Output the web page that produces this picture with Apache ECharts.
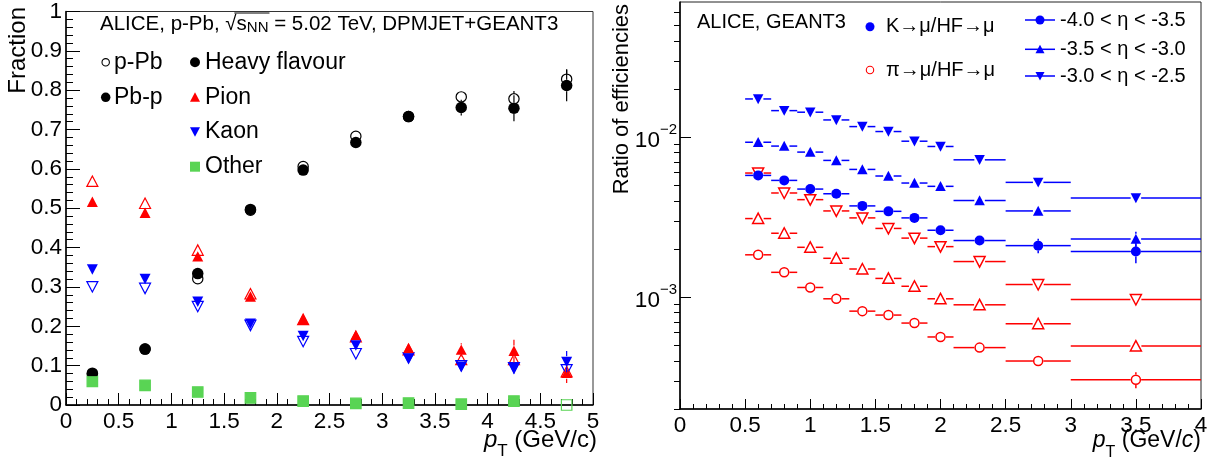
<!DOCTYPE html>
<html>
<head>
<meta charset="utf-8">
<script src="https://cdn.jsdelivr.net/npm/echarts@6/dist/echarts.min.js"></script>
<style>
html, body { margin: 0; padding: 0; background: #fff; }
#chart { width: 1221px; height: 468px; }
</style>
</head>
<body>
<div id="chart"></div>
<script>
// ---------------- Left panel: muon source fractions vs pT ----------------
const ptCenters = [0.25, 0.75, 1.25, 1.75, 2.25, 2.75, 3.25, 3.75, 4.25, 4.75];

const hfPPb     = [0.078, 0.142, 0.321, 0.495, 0.606, 0.683, 0.733, 0.783, 0.778, 0.828];
const hfPPbErr  = [0, 0, 0, 0, 0.003, 0.006, 0.006, 0.012, 0.020, 0.025];
const hfPbP     = [0.081, 0.142, 0.334, 0.497, 0.597, 0.667, 0.733, 0.756, 0.754, 0.812];
const hfPbPErr  = [0, 0, 0, 0, 0.004, 0.008, 0.008, 0.020, 0.033, 0.040];

const pionPPb    = [0.568, 0.512, 0.393, 0.282, 0.217, 0.173, 0.140, 0.115, 0.115, 0.084];
const pionPPbErr = [0, 0, 0, 0, 0, 0.005, 0.006, 0.010, 0.015, 0.015];
const pionPbP    = [0.516, 0.488, 0.377, 0.275, 0.217, 0.177, 0.144, 0.140, 0.137, 0.081];
const pionPbPErr = [0, 0, 0, 0, 0.004, 0.008, 0.010, 0.017, 0.029, 0.025];

const kaonPPb    = [0.301, 0.297, 0.251, 0.203, 0.162, 0.131, 0.120, 0.100, 0.095, 0.090];
const kaonPPbErr = [0, 0, 0, 0, 0, 0.004, 0.005, 0.008, 0.010, 0.015];
const kaonPbP    = [0.345, 0.321, 0.263, 0.207, 0.176, 0.152, 0.119, 0.098, 0.094, 0.110];
const kaonPbPErr = [0, 0, 0, 0, 0.004, 0.006, 0.008, 0.012, 0.015, 0.027];

const otherPPb   = [0.060, 0.050, 0.033, 0.018, 0.010, 0.004, 0.005, 0.002, 0.010, 0.000];
const otherPbP   = [0.060, 0.050, 0.033, 0.018, 0.010, 0.004, 0.005, 0.002, 0.010, null];
const otherErr   = [0, 0, 0, 0, 0, 0, 0, 0, 0, 0];

// ---------------- Right panel: efficiency ratios vs pT ----------------
const binLow    = [0.5, 0.7, 0.9, 1.1, 1.3, 1.5, 1.7, 1.9, 2.1, 2.5, 3.0];
const binHigh   = [0.7, 0.9, 1.1, 1.3, 1.5, 1.7, 1.9, 2.1, 2.5, 3.0, 4.0];
const binCenter = [0.6, 0.8, 1.0, 1.2, 1.4, 1.6, 1.8, 2.0, 2.3, 2.75, 3.5];

// K -> mu / HF -> mu
const kEta1    = [0.00577, 0.00537, 0.00474, 0.00443, 0.00372, 0.00344, 0.00313, 0.00262, 0.00226, 0.00210, 0.00193];
const kEta1Err = [0.00010, 0.00010, 0.00010, 0.00010, 0.00009, 0.00009, 0.00009, 0.00009, 0.00010, 0.00022, 0.00030];
const kEta2    = [0.00930, 0.00880, 0.00807, 0.00716, 0.00629, 0.00572, 0.00517, 0.00493, 0.00402, 0.00346, 0.00231];
const kEta2Err = [0.00015, 0.00015, 0.00015, 0.00014, 0.00013, 0.00013, 0.00013, 0.00013, 0.00012, 0.00015, 0.00025];
const kEta3    = [0.01734, 0.01466, 0.01433, 0.01282, 0.01165, 0.01085, 0.00944, 0.00875, 0.00722, 0.00522, 0.00417];
const kEta3Err = [0.00030, 0.00030, 0.00030, 0.00028, 0.00026, 0.00026, 0.00024, 0.00024, 0.00020, 0.00018, 0.00020];

// pi -> mu / HF -> mu
const piEta1    = [0.00184, 0.00143, 0.00115, 0.000977, 0.000818, 0.000773, 0.000689, 0.000564, 0.000484, 0.000399, 0.000305];
const piEta1Err = [0.00003, 0.00003, 0.00003, 0.00002, 0.00002, 0.00002, 0.00002, 0.00002, 0.00002, 0.00002, 0.000035];
const piEta2    = [0.00310, 0.00251, 0.00205, 0.00175, 0.00150, 0.00131, 0.00117, 0.000977, 0.000896, 0.000682, 0.000495];
const piEta2Err = [0.00005, 0.00005, 0.00004, 0.00004, 0.00004, 0.00003, 0.00003, 0.00003, 0.00003, 0.00003, 0.00003];
const piEta3    = [0.00597, 0.00448, 0.00407, 0.00346, 0.00313, 0.00269, 0.00234, 0.00207, 0.00167, 0.00120, 0.000967];
const piEta3Err = [0.00010, 0.00008, 0.00008, 0.00007, 0.00006, 0.00006, 0.00005, 0.00005, 0.00004, 0.00004, 0.00004];

// Tick positions of the logarithmic axis
const logMajorTicks = [0.001, 0.01];
const logMinorTicks = [0.0002, 0.0003, 0.0004, 0.0005, 0.0006, 0.0007, 0.0008, 0.0009,
                       0.002, 0.003, 0.004, 0.005, 0.006, 0.007, 0.008, 0.009,
                       0.02, 0.03, 0.04, 0.05, 0.06];

// ---------------- drawing helpers ----------------
const FONT = '"Liberation Sans", Arial, Helvetica, sans-serif';
const RED = '#ff0000', BLUE = '#0000ff', BLACK = '#000000', GREEN = '#59d454';

function markerEl(kind, cx, cy, size, filled, color, lw) {
  const r = size / 2;
  const style = filled ? { fill: color, stroke: null } : { fill: null, stroke: color, lineWidth: lw };
  switch (kind) {
    case 'circle': return { type: 'circle', shape: { cx: cx, cy: cy, r: filled ? r : r - lw / 2 }, style: style };
    case 'square': return { type: 'rect', shape: { x: cx - r, y: cy - r, width: size, height: size }, style: style };
    case 'up': return { type: 'polygon', shape: { points: [[cx, cy - r], [cx + r, cy + r * 0.9], [cx - r, cy + r * 0.9]] }, style: style };
    case 'down': return { type: 'polygon', shape: { points: [[cx, cy + r], [cx + r, cy - r * 0.9], [cx - r, cy - r * 0.9]] }, style: style };
  }
}

function pointSeries(name, panel, pts, kind, filled, color, size, lw) {
  return {
    type: 'custom',
    name: name,
    xAxisIndex: panel,
    yAxisIndex: panel,
    data: pts,
    encode: { x: 0, y: 1 },
    clip: false,
    renderItem: function (params, api) {
      const x = api.value(0), y = api.value(1);
      const xl = api.value(2), xh = api.value(3), el = api.value(4), eh = api.value(5);
      const c = api.coord([x, y]);
      const r = size / 2;
      const ls = { stroke: color, lineWidth: lw };
      const kids = [];
      if (xh > xl) {
        const a = api.coord([xl, y])[0], b = api.coord([xh, y])[0];
        if (c[0] - r > a) kids.push({ type: 'line', shape: { x1: a, y1: c[1], x2: c[0] - r, y2: c[1] }, style: ls });
        if (b > c[0] + r) kids.push({ type: 'line', shape: { x1: c[0] + r, y1: c[1], x2: b, y2: c[1] }, style: ls });
      }
      if (el > 0) {
        const lo = api.coord([x, y - el])[1];
        if (lo > c[1] + r) kids.push({ type: 'line', shape: { x1: c[0], y1: c[1] + r, x2: c[0], y2: lo }, style: ls });
      }
      if (eh > 0) {
        const hi = api.coord([x, y + eh])[1];
        if (hi < c[1] - r) kids.push({ type: 'line', shape: { x1: c[0], y1: hi, x2: c[0], y2: c[1] - r }, style: ls });
      }
      kids.push(markerEl(kind, c[0], c[1], size, filled, color, lw));
      return { type: 'group', children: kids };
    }
  };
}

function leftPoints(vals, errs) {
  const out = [];
  ptCenters.forEach(function (x, i) {
    if (vals[i] !== null) out.push([x, vals[i], x, x, errs[i], errs[i]]);
  });
  return out;
}
function rightPoints(vals, errs) {
  return binCenter.map(function (x, i) { return [x, vals[i], binLow[i], binHigh[i], errs[i], errs[i]]; });
}

// ---------------- annotation & legend graphics ----------------
function txt(x, y, text, size, align, rot) {
  const o = { type: 'text', x: x, y: y, silent: true,
    style: { text: text, font: size + 'px ' + FONT, fill: '#000',
      textAlign: align || 'left', textVerticalAlign: 'middle' } };
  if (rot) o.rotation = rot;
  return o;
}
function gMarker(kind, cx, cy, size, filled, color, lw) {
  return Object.assign({ silent: true }, markerEl(kind, cx, cy, size, filled, color, lw || 1.2));
}

// width of a piece of text, used to place the bar of the square-root sign
const measureCtx = document.createElement('canvas').getContext('2d');
function textWidth(text, font) { measureCtx.font = font; return measureCtx.measureText(text).width; }

const HEAD_FONT = '20.5px ' + FONT, HEAD_SUB = '15px ' + FONT;
const headX = 100;
const rootStart = headX + textWidth('ALICE, p-Pb, ', HEAD_FONT) + textWidth('√', HEAD_FONT) * 0.8;
const rootEnd = headX + textWidth('ALICE, p-Pb, √s', HEAD_FONT) + textWidth('NN', HEAD_SUB) + 1;

const graphics = [
  // left panel header
  { type: 'text', x: headX, y: 23, silent: true,
    style: { text: '{n|ALICE, p-Pb, √s}{sub|NN}{n| = 5.02 TeV, DPMJET+GEANT3}',
      textVerticalAlign: 'middle',
      rich: { n: { font: HEAD_FONT, fill: '#000', verticalAlign: 'bottom', lineHeight: 24 },
              sub: { font: HEAD_SUB, fill: '#000', verticalAlign: 'bottom', lineHeight: 18 } } } },
  { type: 'line', silent: true, shape: { x1: rootStart, y1: 13, x2: rootEnd, y2: 13 }, style: { stroke: '#000', lineWidth: 1 } },
  // left legend
  gMarker('circle', 105.7, 62.3, 8.5, false, BLACK, 1.1),
  txt(114, 62.3, 'p-Pb', 23),
  gMarker('circle', 105.7, 97.3, 9.5, true, BLACK),
  txt(114, 97.3, 'Pb-p', 23),
  gMarker('circle', 195, 62.3, 10, true, BLACK),
  txt(205, 62.3, 'Heavy flavour', 23),
  gMarker('up', 195, 97.3, 10, true, RED),
  txt(205, 97.3, 'Pion', 23),
  gMarker('down', 195, 131.7, 10, true, BLUE),
  txt(205, 131.7, 'Kaon', 23),
  gMarker('square', 195, 166.7, 10, true, GREEN),
  txt(205, 166.7, 'Other', 23),
  // axis titles, left
  txt(18.5, 7, 'Fraction', 24, 'right', Math.PI / 2),
  { type: 'text', x: 597, y: 444, silent: true,
    style: { text: '{i|p}{sub|T}{n| (GeV/c)}', textAlign: 'right', textVerticalAlign: 'middle',
      rich: { i: { font: 'italic 24px ' + FONT, fill: '#000', verticalAlign: 'top', lineHeight: 32 },
              sub: { font: '17px ' + FONT, fill: '#000', verticalAlign: 'bottom', lineHeight: 17 },
              n: { font: '24px ' + FONT, fill: '#000', verticalAlign: 'top', lineHeight: 32 } } } },
  // right panel header and legend
  txt(697, 22.7, 'ALICE, GEANT3', 20),
  gMarker('circle', 870, 26.7, 9, true, BLUE),
  txt(886, 26.7, 'K→μ/HF→μ', 20),
  gMarker('circle', 870, 70, 8.5, false, RED, 1.1),
  txt(886, 70, 'π→μ/HF→μ', 20),
  { type: 'line', silent: true, shape: { x1: 1025, y1: 20, x2: 1055, y2: 20 }, style: { stroke: BLUE, lineWidth: 1.5 } },
  gMarker('circle', 1040, 20, 9, true, BLUE),
  txt(1060, 20, '-4.0 < η < -3.5', 20),
  { type: 'line', silent: true, shape: { x1: 1025, y1: 49.3, x2: 1055, y2: 49.3 }, style: { stroke: BLUE, lineWidth: 1.5 } },
  gMarker('up', 1040, 49.3, 9, true, BLUE),
  txt(1060, 49.3, '-3.5 < η < -3.0', 20),
  { type: 'line', silent: true, shape: { x1: 1025, y1: 76, x2: 1055, y2: 76 }, style: { stroke: BLUE, lineWidth: 1.5 } },
  gMarker('down', 1040, 76, 9, true, BLUE),
  txt(1060, 76, '-3.0 < η < -2.5', 20),
  // axis titles, right
  txt(622, 4, 'Ratio of efficiencies', 22, 'right', Math.PI / 2),
  { type: 'text', x: 1201, y: 445, silent: true,
    style: { text: '{i|p}{sub|T}{n| (GeV/}{i|c}{n|)}', textAlign: 'right', textVerticalAlign: 'middle',
      rich: { i: { font: 'italic 23px ' + FONT, fill: '#000', verticalAlign: 'top', lineHeight: 31 },
              sub: { font: '16px ' + FONT, fill: '#000', verticalAlign: 'bottom', lineHeight: 16 },
              n: { font: '23px ' + FONT, fill: '#000', verticalAlign: 'top', lineHeight: 31 } } } }
];

// ---------------- axes ----------------
const tickLabel = { color: '#000', fontFamily: FONT, fontSize: 22.5 };

const option = {
  animation: false,
  backgroundColor: '#fff',
  grid: [
    { left: 66, top: 6, width: 527, height: 399, show: true, borderColor: '#333', borderWidth: 1, backgroundColor: 'transparent' },
    { left: 680, top: 2, width: 521, height: 407, show: true, borderColor: '#222', borderWidth: 1, backgroundColor: 'transparent' }
  ],
  xAxis: [
    { type: 'value', gridIndex: 0, min: 0, max: 5, interval: 0.5,
      axisLine: { show: true, onZero: false, lineStyle: { color: '#000', width: 1.5 } },
      axisTick: { show: true, inside: true, length: 12, lineStyle: { color: '#000', width: 1 } },
      minorTick: { show: true, splitNumber: 5, length: 6, lineStyle: { color: '#000', width: 1 } },
      splitLine: { show: false }, minorSplitLine: { show: false },
      axisLabel: Object.assign({ margin: 5 }, tickLabel) },
    { type: 'value', gridIndex: 1, min: 0, max: 4, interval: 0.5,
      axisLine: { show: true, onZero: false, lineStyle: { color: '#000', width: 1.5 } },
      axisTick: { show: true, inside: true, length: 10, lineStyle: { color: '#000', width: 1 } },
      minorTick: { show: true, splitNumber: 5, length: 5, lineStyle: { color: '#000', width: 1 } },
      splitLine: { show: false }, minorSplitLine: { show: false },
      axisLabel: Object.assign({ margin: 5 }, tickLabel) }
  ],
  yAxis: [
    { type: 'value', gridIndex: 0, min: 0, max: 1, interval: 0.1,
      axisLine: { show: true, onZero: false, lineStyle: { color: '#000', width: 1.5 } },
      axisTick: { show: true, inside: true, length: 14, lineStyle: { color: '#000', width: 1 } },
      minorTick: { show: true, splitNumber: 5, length: 7, lineStyle: { color: '#000', width: 1 } },
      splitLine: { show: false }, minorSplitLine: { show: false },
      axisLabel: Object.assign({ margin: 4 }, tickLabel) },
    { type: 'log', gridIndex: 1, min: 0.0002, max: 0.07, logBase: 10,
      axisLine: { show: true, onZero: false, lineStyle: { color: '#000', width: 1.5 } },
      axisTick: { show: true, inside: true, length: 11, customValues: logMajorTicks, lineStyle: { color: '#000', width: 1 } },
      splitLine: { show: false },
      axisLabel: { customValues: logMajorTicks, margin: 3,
        formatter: function (v) { return '{b|10}{s|−' + Math.round(-Math.log10(v)) + '}'; },
        rich: { b: { fontFamily: FONT, fontSize: 22.5, color: '#000', verticalAlign: 'bottom', lineHeight: 30 },
                s: { fontFamily: FONT, fontSize: 15, color: '#000', verticalAlign: 'top', lineHeight: 15 } } } },
    { type: 'log', gridIndex: 1, min: 0.0002, max: 0.07, logBase: 10,
      axisLine: { show: false },
      axisTick: { show: true, inside: true, length: 6, customValues: logMinorTicks, lineStyle: { color: '#000', width: 1 } },
      axisLabel: { show: false }, splitLine: { show: false } }
  ],
  graphic: { elements: graphics },
  series: [
    // left panel: open markers (p-Pb) first, filled (Pb-p) on top
    pointSeries('HF p-Pb', 0, leftPoints(hfPPb, hfPPbErr), 'circle', false, BLACK, 11.5, 1.2),
    pointSeries('Pion p-Pb', 0, leftPoints(pionPPb, pionPPbErr), 'up', false, RED, 11, 1.2),
    pointSeries('Kaon p-Pb', 0, leftPoints(kaonPPb, kaonPPbErr), 'down', false, BLUE, 11, 1.2),
    pointSeries('Other p-Pb', 0, leftPoints(otherPPb, otherErr), 'square', false, GREEN, 10.5, 1.2),
    pointSeries('HF Pb-p', 0, leftPoints(hfPbP, hfPbPErr), 'circle', true, BLACK, 11.5, 1.2),
    pointSeries('Pion Pb-p', 0, leftPoints(pionPbP, pionPbPErr), 'up', true, RED, 11, 1.2),
    pointSeries('Kaon Pb-p', 0, leftPoints(kaonPbP, kaonPbPErr), 'down', true, BLUE, 11, 1.2),
    pointSeries('Other Pb-p', 0, leftPoints(otherPbP, otherErr), 'square', true, GREEN, 10.5, 1.2),
    // right panel
    pointSeries('pi eta1', 1, rightPoints(piEta1, piEta1Err), 'circle', false, RED, 10.5, 1.5),
    pointSeries('pi eta2', 1, rightPoints(piEta2, piEta2Err), 'up', false, RED, 11, 1.5),
    pointSeries('pi eta3', 1, rightPoints(piEta3, piEta3Err), 'down', false, RED, 11, 1.5),
    pointSeries('K eta1', 1, rightPoints(kEta1, kEta1Err), 'circle', true, BLUE, 10, 1.5),
    pointSeries('K eta2', 1, rightPoints(kEta2, kEta2Err), 'up', true, BLUE, 10.5, 1.5),
    pointSeries('K eta3', 1, rightPoints(kEta3, kEta3Err), 'down', true, BLUE, 10.5, 1.5)
  ]
};

const chart = echarts.init(document.getElementById('chart'), null, { renderer: 'canvas' });
chart.setOption(option);
</script>
</body>
</html>
